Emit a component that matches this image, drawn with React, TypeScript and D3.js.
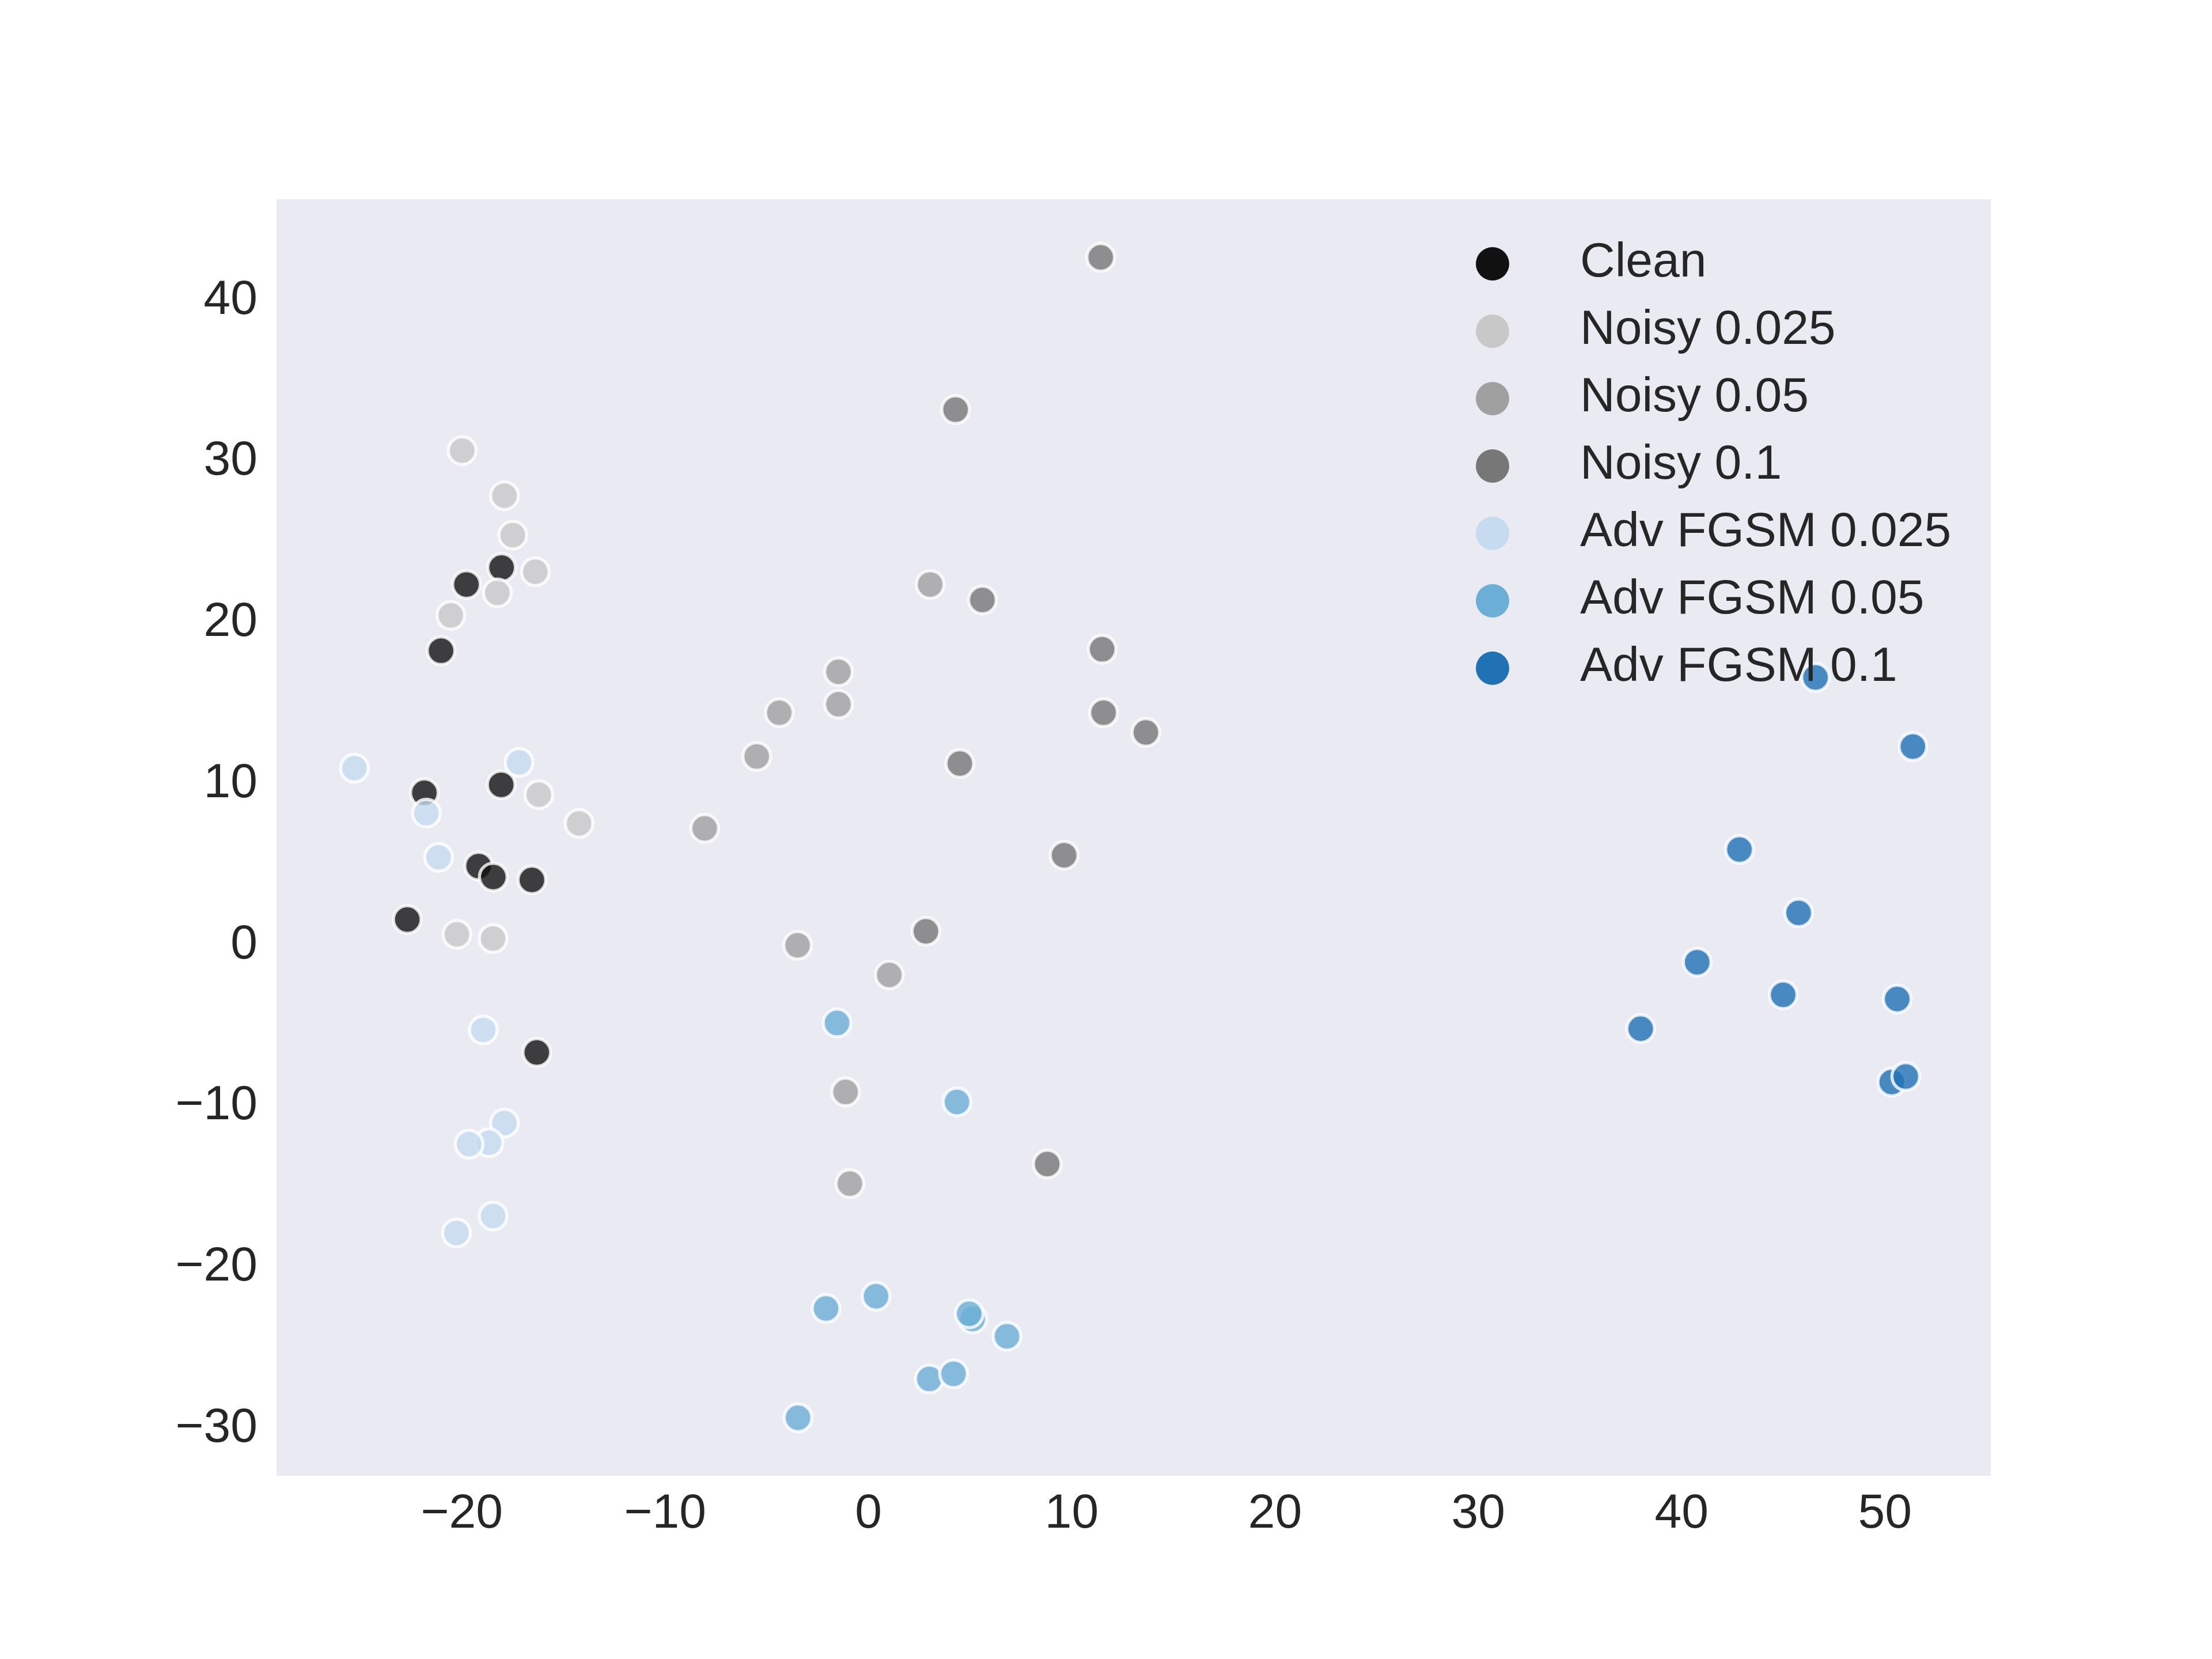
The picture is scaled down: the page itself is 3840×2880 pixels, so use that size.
import React, { useRef, useEffect } from "react";
import * as d3 from "d3";

const seriesNames = ["Clean", "Noisy 0.025", "Noisy 0.05", "Noisy 0.1", "Adv FGSM 0.025", "Adv FGSM 0.05", "Adv FGSM 0.1"];
const seriesColors = ["#111111", "#c8c8c8", "#a0a0a0", "#777777", "#c6dbef", "#6baed6", "#2171b5"];

const cleanX = [-18.03, -19.76, -21.01, -21.83, -18.05, -19.16, -18.44, -16.54, -22.67, -16.3];
const cleanY = [23.27, 22.22, 18.11, 9.29, 9.79, 4.75, 4.07, 3.89, 1.43, -6.82];

const noisy025X = [-19.97, -17.89, -17.48, -16.37, -18.24, -20.53, -16.2, -14.22, -20.23, -18.45];
const noisy025Y = [30.53, 27.73, 25.28, 23.01, 21.7, 20.3, 9.18, 7.39, 0.51, 0.25];

const noisy05X = [3.05, -1.46, -1.46, -4.37, -5.48, -8.04, -3.47, 1.04, -1.11, -0.9];
const noisy05Y = [22.22, 16.8, 14.79, 14.26, 11.55, 7.09, -0.17, -2.01, -9.27, -14.96];

const noisy1X = [11.44, 4.3, 5.62, 11.51, 11.58, 13.66, 4.51, 9.64, 2.84, 8.81];
const noisy1Y = [42.52, 33.07, 21.26, 18.2, 14.26, 13.04, 11.11, 5.42, 0.7, -13.74];

const adv025X = [-25.27, -17.17, -21.73, -21.13, -18.93, -17.89, -18.65, -19.63, -18.45, -20.25];
const adv025Y = [10.82, 11.18, 8.03, 5.29, -5.42, -11.2, -12.42, -12.51, -16.97, -18.02];

const adv05X = [-1.53, 4.37, 0.39, -2.07, 5.14, 4.97, 6.83, 3.01, 4.2, -3.45];
const adv05Y = [-4.99, -9.89, -21.95, -22.71, -23.36, -23.04, -24.43, -27.08, -26.76, -29.49];

const adv1X = [46.6, 51.39, 42.86, 45.77, 40.78, 45.01, 50.62, 38.0, 50.35, 51.04];
const adv1Y = [16.45, 12.16, 5.77, 1.84, -1.22, -3.24, -3.5, -5.34, -8.66, -8.31];

const xTicks = [-20, -10, 0, 10, 20, 30, 40, 50];
const yTicks = [-30, -20, -10, 0, 10, 20, 30, 40];

const seriesX = [cleanX, noisy025X, noisy05X, noisy1X, adv025X, adv05X, adv1X];
const seriesY = [cleanY, noisy025Y, noisy05Y, noisy1Y, adv025Y, adv05Y, adv1Y];

interface Point {
    x: number;
    y: number;
    s: number;
}

const App: React.FC = () => {
    const svgRef = useRef<SVGSVGElement | null>(null);

    useEffect(() => {
        const width = 3840;
        const height = 2880;
        const left = 480;
        const right = 3456;
        const top = 346;
        const bottom = 2562;
        const font = "'Liberation Sans', Arial, sans-serif";

        const svg = d3.select(svgRef.current).attr("width", width).attr("height", height);
        svg.selectAll("*").remove();
        svg.append("rect").attr("width", width).attr("height", height).attr("fill", "#ffffff");

        const points: Point[] = [];
        seriesX.forEach((xs, s) => xs.forEach((x, i) => points.push({ x, y: seriesY[s][i], s })));

        // matplotlib style 5% margins
        const pad = (ext: [number, number]) => {
            const m = (ext[1] - ext[0]) * 0.05;
            return [ext[0] - m, ext[1] + m];
        };
        const xScale = d3.scaleLinear().domain(pad(d3.extent(points, (d) => d.x) as [number, number])).range([left, right]);
        const yScale = d3.scaleLinear().domain(pad(d3.extent(points, (d) => d.y) as [number, number])).range([bottom, top]);

        svg.append("rect")
            .attr("x", left)
            .attr("y", top)
            .attr("width", right - left)
            .attr("height", bottom - top)
            .attr("fill", "#eaeaf2");

        // tick labels, no tick lines
        const xAxis = svg.append("g").attr("transform", `translate(0, ${bottom})`).call(d3.axisBottom(xScale).tickValues(xTicks).tickSize(0).tickPadding(30));
        const yAxis = svg.append("g").attr("transform", `translate(${left}, 0)`).call(d3.axisLeft(yScale).tickValues(yTicks).tickSize(0).tickPadding(33));
        [xAxis, yAxis].forEach((ax) => {
            ax.select(".domain").remove();
            ax.selectAll("text").attr("font-family", font).attr("font-size", 84).attr("fill", "#262626");
        });

        svg.append("g")
            .selectAll("circle")
            .data(points)
            .enter()
            .append("circle")
            .attr("cx", (d) => xScale(d.x))
            .attr("cy", (d) => yScale(d.y))
            .attr("r", 24)
            .attr("fill", (d) => seriesColors[d.s])
            .attr("fill-opacity", 0.8)
            .attr("stroke", "#ffffff")
            .attr("stroke-opacity", 0.8)
            .attr("stroke-width", 5.5);

        // legend
        const legend = svg.append("g").attr("transform", "translate(2591, 458)");
        const rows = legend
            .selectAll("g")
            .data(seriesNames)
            .enter()
            .append("g")
            .attr("transform", (_, i) => `translate(0, ${i * 117})`);
        rows.append("circle").attr("r", 29).attr("fill", (_, i) => seriesColors[i]);
        rows.append("text")
            .attr("x", 152)
            .attr("y", 22)
            .attr("font-family", font)
            .attr("font-size", 84)
            .attr("fill", "#262626")
            .text((d) => d);
    }, []);

    return <svg ref={svgRef} style={{ position: "absolute", left: 0, top: 0, display: "block" }} />;
};

export default App;
